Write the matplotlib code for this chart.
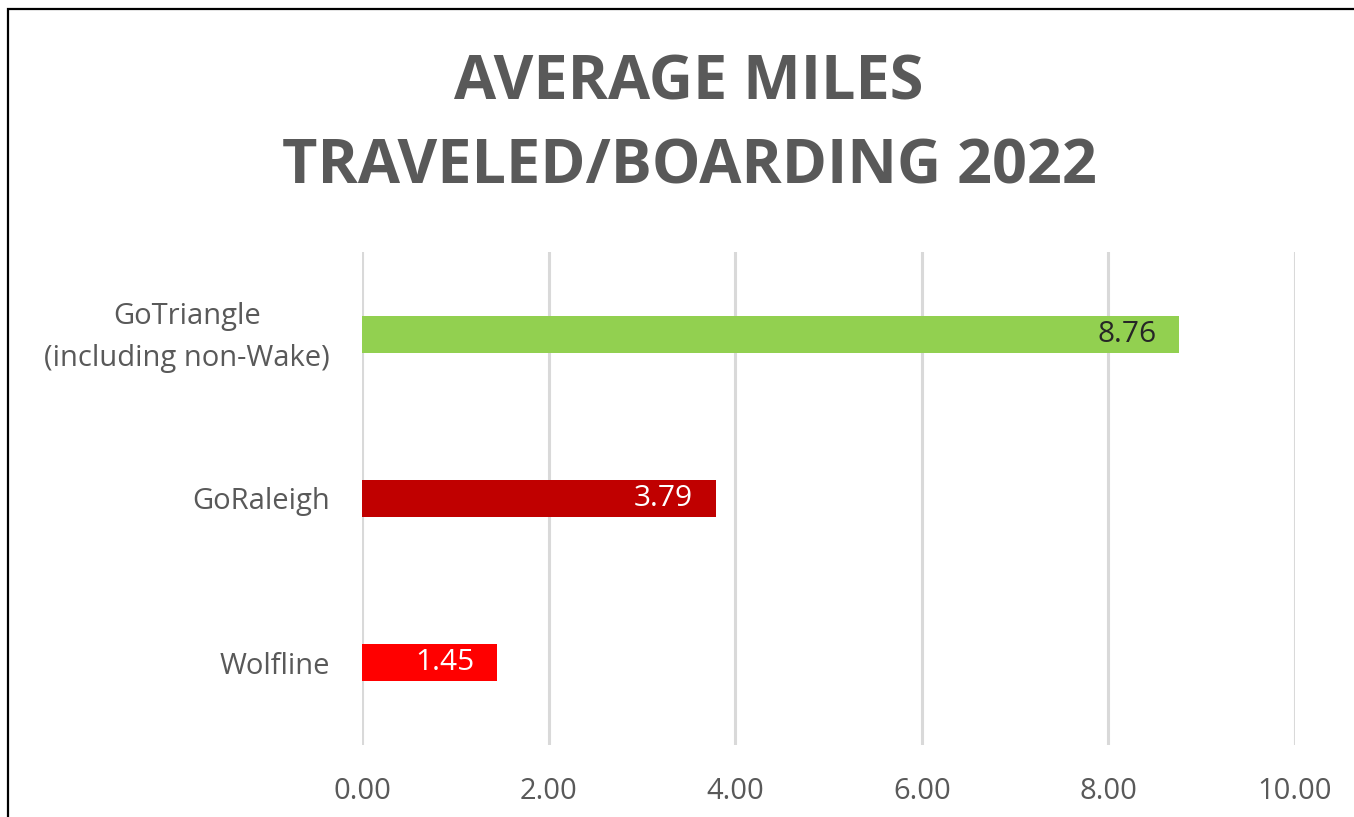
import matplotlib.pyplot as plt
from matplotlib.patches import Rectangle
from matplotlib.transforms import ScaledTranslation

# Data
routes = ['GoTriangle\n(including non-Wake)', 'GoRaleigh', 'Wolfline']
miles = [8.76, 3.79, 1.45]
bar_colors = ['#92D050', '#C00000', '#FF0000']
label_colors = ['#262626', 'white', 'white']
x_ticks = [0, 2, 4, 6, 8, 10]
x_ticklabels = ['0.00', '2.00', '4.00', '6.00', '8.00', '10.00']

plt.rcParams['font.family'] = ['Open Sans', 'DejaVu Sans']
grey = '#595959'

fig = plt.figure(figsize=(13.54, 8.17), dpi=100)
ax = fig.add_axes([362 / 1354, 1 - 745 / 817, (1295 - 362) / 1354, (745 - 252) / 817])

pos = list(range(len(routes)))
ax.barh(pos, miles, height=0.226, color=bar_colors, zorder=3)

for y, v, c in zip(pos, miles, label_colors):
    ax.text(v - 0.24, y, f'{v:.2f}', ha='right', va='center',
            fontsize=21.5, color=c, zorder=4)

ax.set_xlim(0, 10)
ax.set_ylim(2.5, -0.5)
ax.set_xticks(x_ticks)
ax.set_xticklabels(x_ticklabels, fontsize=21, color=grey)
ax.set_yticks(pos)
ax.set_yticklabels(routes, fontsize=21, color=grey, linespacing=1.6,
                   multialignment='center')
ax.tick_params(axis='both', length=0)
ax.tick_params(axis='x', pad=23)
ax.tick_params(axis='y', pad=23)
ax.grid(axis='x', color='#D9D9D9', linewidth=2.2, zorder=0)
for s in ax.spines.values():
    s.set_visible(False)

# nudge the two-line label up a little
lbl = ax.get_yticklabels()[0]
lbl.set_transform(lbl.get_transform() + ScaledTranslation(0, 0.07, fig.dpi_scale_trans))

fig.text(689 / 1354, 1 - 84 / 817, 'AVERAGE MILES', ha='center', va='center',
         fontsize=44, fontweight='bold', color=grey)
fig.text(689 / 1354, 1 - 168 / 817, 'TRAVELED/BOARDING 2022', ha='center', va='center',
         fontsize=44, fontweight='bold', color=grey)

# outer border of the chart area
fig.patches.append(Rectangle((8 / 1354, -0.05), 1.1, 1 - 9 / 817 + 0.05,
                             transform=fig.transFigure, fill=False,
                             edgecolor='black', linewidth=1.6))

fig.savefig('out.png', dpi=100)
